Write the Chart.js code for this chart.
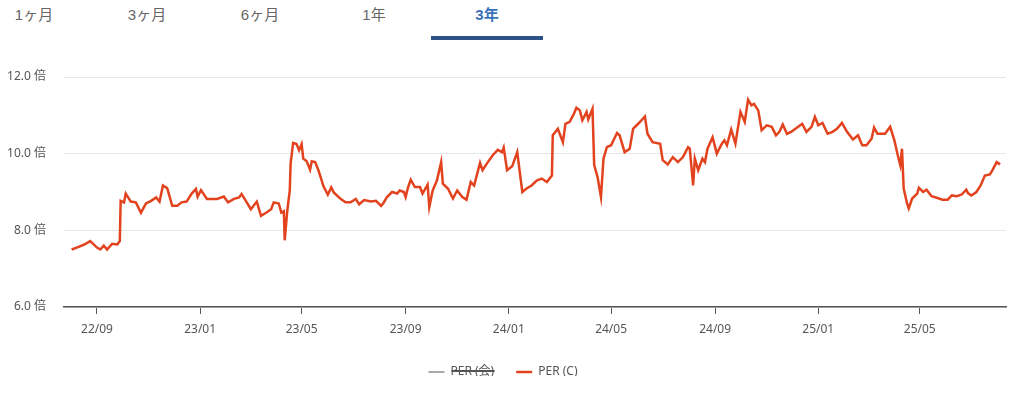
<!DOCTYPE html>
<html>
<head>
<meta charset="utf-8">
<script src="https://cdn.jsdelivr.net/npm/chart.js@4"></script>
<style>
    html, body { margin: 0; padding: 0; background: #fff; }
    body { width: 1024px; height: 393px; position: relative; overflow: hidden; }
    .tab {
        position: absolute; top: 3px; width: 112px; height: 22px; line-height: 22px;
        text-align: center; font: 400 15px "Liberation Sans", "Noto Sans CJK JP", sans-serif; color: #666;
    }
    .tab.active { color: #3a72b8; font-weight: bold; }
    .tab-bar { position: absolute; left: 431px; top: 36px; width: 112px; height: 4px; background: #2c5286; }
    #chartWrap { position: absolute; left: 0; top: 0; width: 1024px; height: 393px; }
</style>
</head>
<body>
<div class="tab" style="left:-22px">1ヶ月</div>
<div class="tab" style="left:91px">3ヶ月</div>
<div class="tab" style="left:204px">6ヶ月</div>
<div class="tab" style="left:318px">1年</div>
<div class="tab active" style="left:431px">3年</div>
<div class="tab-bar"></div>
<div id="chartWrap"><canvas id="perChart"></canvas></div>
<script>
const tickLabels = ['22/09', '23/01', '23/05', '23/09', '24/01', '24/05', '24/09', '25/01', '25/05'];

const dates = [
    '2022-08-02', '2022-08-08', '2022-08-17', '2022-08-24',
    '2022-09-01', '2022-09-05', '2022-09-09', '2022-09-13', '2022-09-19', '2022-09-25', '2022-09-28', '2022-09-29',
    '2022-10-03', '2022-10-05', '2022-10-11', '2022-10-17', '2022-10-23', '2022-10-29',
    '2022-11-04', '2022-11-10', '2022-11-14', '2022-11-18', '2022-11-23', '2022-11-29',
    '2022-12-05', '2022-12-10', '2022-12-16', '2022-12-22', '2022-12-27', '2022-12-29',
    '2023-01-02', '2023-01-09', '2023-01-15', '2023-01-21', '2023-01-29',
    '2023-02-03', '2023-02-10', '2023-02-16', '2023-02-19', '2023-02-24',
    '2023-03-02', '2023-03-09', '2023-03-14', '2023-03-20', '2023-03-26', '2023-03-29',
    '2023-04-04', '2023-04-07', '2023-04-10', '2023-04-11', '2023-04-14', '2023-04-17', '2023-04-18', '2023-04-21', '2023-04-25', '2023-04-28',
    '2023-05-01', '2023-05-03', '2023-05-07', '2023-05-11', '2023-05-13', '2023-05-17', '2023-05-21', '2023-05-27',
    '2023-06-01', '2023-06-05', '2023-06-08', '2023-06-16', '2023-06-22', '2023-06-28',
    '2023-07-04', '2023-07-08', '2023-07-14', '2023-07-22', '2023-07-28',
    '2023-08-03', '2023-08-06', '2023-08-10', '2023-08-16', '2023-08-22', '2023-08-25', '2023-08-30',
    '2023-09-01', '2023-09-04', '2023-09-07', '2023-09-12', '2023-09-18', '2023-09-21', '2023-09-27', '2023-09-29',
    '2023-10-03', '2023-10-08', '2023-10-13', '2023-10-15', '2023-10-21', '2023-10-27',
    '2023-11-01', '2023-11-07', '2023-11-12', '2023-11-17', '2023-11-21', '2023-11-28',
    '2023-12-01', '2023-12-06', '2023-12-13', '2023-12-19', '2023-12-24', '2023-12-26', '2023-12-30',
    '2024-01-05', '2024-01-11', '2024-01-17', '2024-01-22', '2024-01-28',
    '2024-02-03', '2024-02-09', '2024-02-15', '2024-02-21', '2024-02-22', '2024-02-28',
    '2024-03-05', '2024-03-08', '2024-03-13', '2024-03-18', '2024-03-21', '2024-03-25', '2024-03-28',
    '2024-04-02', '2024-04-04', '2024-04-09', '2024-04-11', '2024-04-15', '2024-04-19', '2024-04-22', '2024-04-26',
    '2024-05-01', '2024-05-08', '2024-05-11', '2024-05-17', '2024-05-23', '2024-05-27',
    '2024-06-02', '2024-06-10', '2024-06-13', '2024-06-19', '2024-06-28',
    '2024-07-01', '2024-07-07', '2024-07-13', '2024-07-19', '2024-07-25', '2024-07-31',
    '2024-08-02', '2024-08-06', '2024-08-08', '2024-08-12', '2024-08-17', '2024-08-20', '2024-08-23', '2024-08-29',
    '2024-09-03', '2024-09-09', '2024-09-12', '2024-09-15', '2024-09-20', '2024-09-25',
    '2024-10-01', '2024-10-06', '2024-10-10', '2024-10-14', '2024-10-17', '2024-10-22', '2024-10-26',
    '2024-11-01', '2024-11-07', '2024-11-12', '2024-11-16', '2024-11-20', '2024-11-25', '2024-11-30',
    '2024-12-05', '2024-12-13', '2024-12-18', '2024-12-24', '2024-12-28',
    '2025-01-01', '2025-01-06', '2025-01-12', '2025-01-18', '2025-01-23', '2025-01-29',
    '2025-02-04', '2025-02-11', '2025-02-17', '2025-02-22', '2025-02-27',
    '2025-03-05', '2025-03-08', '2025-03-12', '2025-03-21', '2025-03-27',
    '2025-04-01', '2025-04-05', '2025-04-08', '2025-04-10', '2025-04-12', '2025-04-16', '2025-04-18', '2025-04-22', '2025-04-28', '2025-04-30',
    '2025-05-05', '2025-05-09', '2025-05-15', '2025-05-21', '2025-05-28',
    '2025-06-03', '2025-06-08', '2025-06-14', '2025-06-20', '2025-06-25', '2025-06-27',
    '2025-07-01', '2025-07-07', '2025-07-12', '2025-07-17', '2025-07-23', '2025-07-26', '2025-07-31',
    '2025-08-04'
];

const perC = [
    7.50, 7.55, 7.63, 7.72,
    7.55, 7.50, 7.60, 7.50, 7.65, 7.63, 7.72, 8.77,
    8.73, 8.96, 8.75, 8.73, 8.46, 8.70,
    8.77, 8.86, 8.75, 9.17, 9.10, 8.64,
    8.64, 8.73, 8.75, 8.96, 9.08, 8.88,
    9.05, 8.82, 8.82, 8.82, 8.88,
    8.73, 8.82, 8.86, 8.95, 8.77,
    8.55, 8.75, 8.38, 8.46, 8.55, 8.73,
    8.70, 8.46, 8.50, 7.74, 8.50, 9.04, 9.74, 10.28, 10.25, 10.09,
    10.25, 9.87, 9.80, 9.58, 9.80, 9.78, 9.56, 9.14,
    8.93, 9.12, 8.99, 8.82, 8.73, 8.73,
    8.82, 8.68, 8.79, 8.75, 8.77,
    8.64, 8.72, 8.87, 9.00, 8.96, 9.04, 9.00,
    8.87, 9.13, 9.32, 9.13, 9.13, 8.96, 9.19, 8.61,
    9.04, 9.30, 9.78, 9.22, 9.09, 8.83,
    9.04, 8.87, 8.80, 9.26, 9.17, 9.76,
    9.57, 9.74, 9.96, 10.10, 10.04, 10.16, 9.57,
    9.67, 10.04, 9.00, 9.09, 9.17,
    9.30, 9.35, 9.26, 9.43, 10.48, 10.65,
    10.30, 10.78, 10.83, 11.04, 11.20, 11.13, 10.87,
    11.09, 10.89, 11.17, 9.70, 9.39, 8.87, 9.87, 10.17,
    10.22, 10.54, 10.48, 10.04, 10.13, 10.65,
    10.78, 10.97, 10.52, 10.30, 10.26,
    9.83, 9.72, 9.91, 9.78, 9.91, 10.17,
    10.13, 9.17, 9.87, 9.57, 9.87, 9.78, 10.13, 10.43,
    10.00, 10.26, 10.35, 10.22, 10.63, 10.26,
    11.09, 10.83, 11.41, 11.26, 11.30, 11.13, 10.61,
    10.74, 10.70, 10.48, 10.57, 10.76, 10.52, 10.57,
    10.65, 10.78, 10.57, 10.70, 10.96,
    10.74, 10.80, 10.52, 10.57, 10.65, 10.80,
    10.57, 10.37, 10.48, 10.22, 10.22,
    10.39, 10.68, 10.52, 10.52, 10.70,
    10.35, 9.96, 9.70, 10.13, 9.09, 8.70, 8.57, 8.83, 8.96, 9.11,
    9.00, 9.06, 8.89, 8.85, 8.80,
    8.80, 8.91, 8.89, 8.94, 9.06, 8.97,
    8.91, 9.00, 9.17, 9.43, 9.46, 9.57, 9.78,
    9.72
];

// PER (会) is shown only as a hidden legend entry
const perCompany = [];

function toDay(str) {
    const [y, m, d] = str.split('-').map(Number);
    return Date.UTC(y, m - 1, d) / 86400000;
}

const tickDays = tickLabels.map((label) => {
    const [yy, mm] = label.split('/');
    return toDay('20' + yy + '-' + mm + '-01');
});

const points = dates.map((d, i) => ({ x: toDay(d), y: perC[i] }));

const baseFont = { family: "'Noto Sans', 'Noto Sans CJK JP', sans-serif", size: 12 };

const ctx = document.getElementById('perChart').getContext('2d');

const perChart = new Chart(ctx, {
    type: 'line',
    data: {
        datasets: [
            {
                label: 'PER (会)',
                data: perCompany,
                borderColor: '#555555',
                backgroundColor: '#555555',
                hidden: true,
            },
            {
                label: 'PER (C)',
                data: points,
                borderColor: '#e2431e',
                backgroundColor: '#e2431e',
                borderWidth: 2.5,
                pointRadius: 0,
                tension: 0,
            },
        ],
    },
    options: {
        responsive: true,
        maintainAspectRatio: false,
        animation: false,
        layout: {
            padding: { top: 77, right: 18, left: 0, bottom: 17 },
        },
        scales: {
            x: {
                type: 'linear',
                min: toDay(dates[0]) - 9,
                max: toDay(dates[dates.length - 1]) + 7,
                afterBuildTicks: (scale) => {
                    scale.ticks = tickDays.map((v) => ({ value: v }));
                },
                afterFit: (scale) => {
                    scale.height = 37;
                },
                grid: {
                    drawOnChartArea: false,
                    drawTicks: true,
                    tickLength: 7,
                    color: '#555',
                },
                border: {
                    display: true,
                    color: '#555',
                    width: 1.5,
                },
                ticks: {
                    autoSkip: false,
                    maxRotation: 0,
                    padding: 8,
                    color: '#555',
                    font: baseFont,
                    callback: (value) => {
                        const idx = tickDays.indexOf(value);
                        return idx >= 0 ? tickLabels[idx] : '';
                    },
                },
            },
            y: {
                min: 6,
                max: 12,
                afterFit: (scale) => {
                    scale.width = 64;
                },
                grid: {
                    color: '#e6e6e6',
                    drawTicks: false,
                },
                border: {
                    display: false,
                },
                ticks: {
                    stepSize: 2,
                    padding: 18,
                    color: '#555',
                    font: baseFont,
                    callback: (value) => value.toFixed(1) + ' 倍',
                },
            },
        },
        plugins: {
            legend: {
                position: 'bottom',
                maxHeight: 32,
                onClick: null,
                labels: {
                    usePointStyle: true,
                    pointStyle: 'line',
                    pointStyleWidth: 16,
                    boxHeight: 3,
                    padding: 22,
                    color: '#555',
                    font: baseFont,
                },
            },
            tooltip: {
                enabled: false,
            },
        },
    },
});
</script>
</body>
</html>
